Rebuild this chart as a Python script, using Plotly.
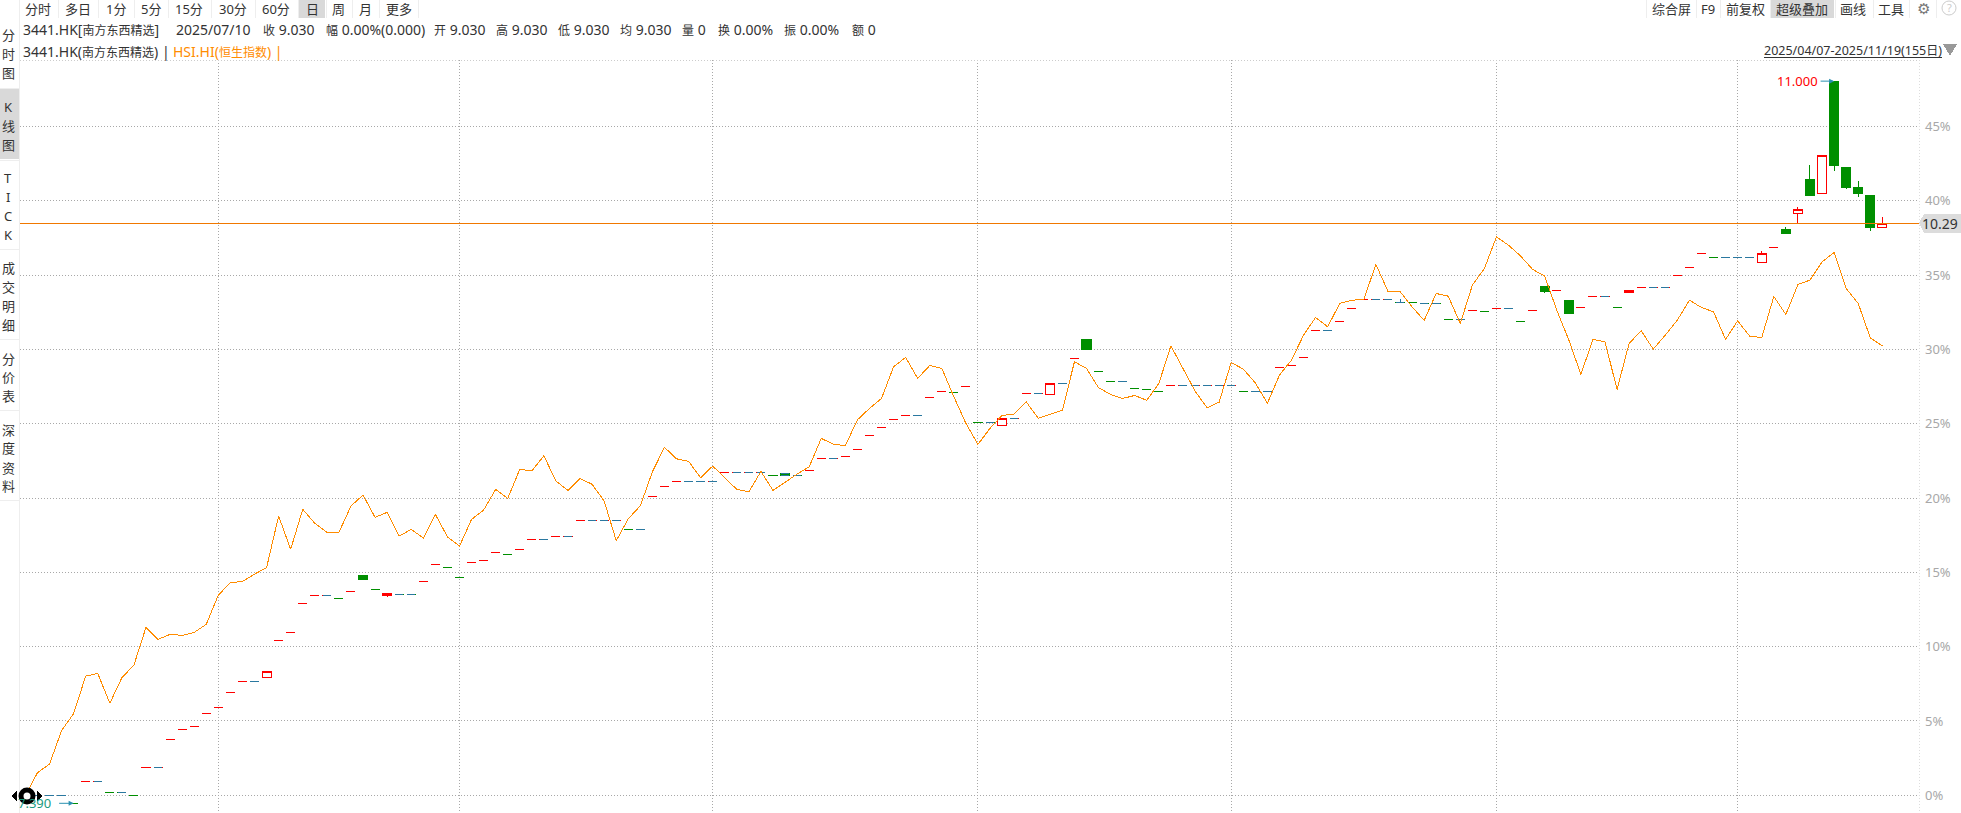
import plotly.graph_objects as go

W, H = 1961, 813
BASE = 7.43  # price at the 0% line

# daily closes, one per bar (155 bars)
closes = [
    7.43, 7.43, 7.43, 7.43, 7.39, 7.50, 7.50, 7.445, 7.445, 7.43,
    7.57, 7.57, 7.71, 7.76, 7.775, 7.84, 7.87, 7.945, 8.00, 8.00,
    8.05, 8.205, 8.245, 8.39, 8.43, 8.43, 8.415, 8.45, 8.51, 8.46,
    8.44, 8.435, 8.435, 8.50, 8.585, 8.57, 8.52, 8.595, 8.605, 8.645,
    8.635, 8.66, 8.71, 8.71, 8.725, 8.725, 8.805, 8.805, 8.805, 8.805,
    8.76, 8.76, 8.925, 8.975, 9.00, 9.00, 9.00, 9.00, 9.045, 9.045,
    9.045, 9.045, 9.03, 9.03, 9.03, 9.055, 9.115, 9.115, 9.125, 9.16,
    9.23, 9.27, 9.31, 9.33, 9.33, 9.42, 9.45, 9.445, 9.475, 9.295,
    9.295, 9.315, 9.315, 9.44, 9.44, 9.49, 9.49, 9.615, 9.66, 9.55,
    9.50, 9.50, 9.465, 9.46, 9.45, 9.48, 9.48, 9.48, 9.48, 9.48,
    9.48, 9.45, 9.45, 9.45, 9.57, 9.58, 9.62, 9.755, 9.755, 9.80,
    9.865, 9.91, 9.91, 9.91, 9.895, 9.895, 9.89, 9.89, 9.81, 9.81,
    9.855, 9.85, 9.865, 9.865, 9.80, 9.855, 9.95, 9.955, 9.84, 9.87,
    9.925, 9.925, 9.87, 9.955, 9.97, 9.97, 9.97, 10.03, 10.07, 10.14,
    10.12, 10.12, 10.12, 10.12, 10.14, 10.17, 10.24, 10.36, 10.43, 10.63,
    10.58, 10.47, 10.44, 10.27, 10.29,
]
# only the bars that have a real body or wick, the rest are flat dashes
open_vals = {20: 8.02, 28: 8.53, 30: 8.43, 63: 9.04, 81: 9.28, 85: 9.435, 88: 9.71,
             126: 9.975, 128: 9.905, 133: 9.945, 144: 10.095, 146: 10.26, 147: 10.34,
             148: 10.51, 149: 10.44, 150: 11.0, 151: 10.57, 152: 10.47, 153: 10.43, 154: 10.27}
high_vals = {114: 9.91, 144: 10.15, 146: 10.27, 147: 10.37, 148: 10.58, 152: 10.50, 154: 10.32}
low_vals = {20: 8.015, 30: 8.42, 81: 9.275, 85: 9.43, 126: 9.94, 128: 9.835, 133: 9.94,
            147: 10.29, 150: 10.55, 151: 10.46, 152: 10.42, 153: 10.25}
# unchanged days, drawn blue
flat_bars = [1, 2, 3, 6, 8, 11, 19, 25, 31, 32, 43, 45, 47, 48, 49, 51, 55, 56, 57, 59, 60, 61,
             63, 64, 67, 74, 80, 82, 84, 86, 91, 96, 97, 98, 99, 100, 102, 103, 108, 112, 113,
             114, 116, 117, 119, 123, 131, 135, 136, 141, 142, 143]

# HSI overlay, % change from the first day
hsi_pct = [
    0.0, 1.52, 2.1, 4.35, 5.5, 8.02, 8.2, 6.19, 7.91, 8.76,
    11.3, 10.49, 10.83, 10.76, 10.96, 11.5, 13.47, 14.3, 14.39, 14.88,
    15.31, 18.79, 16.55, 19.24, 18.3, 17.69, 17.69, 19.46, 20.2, 18.7,
    19.04, 17.44, 17.89, 17.31, 18.9, 17.39, 16.77, 18.56, 19.19, 20.58,
    19.98, 21.93, 21.83, 22.84, 21.14, 20.51, 21.32, 20.92, 19.8, 17.13,
    18.61, 19.48, 21.77, 23.41, 22.64, 22.47, 21.36, 22.15, 21.36, 20.58,
    20.42, 21.79, 20.51, 21.09, 21.61, 22.1, 24.01, 23.63, 23.52, 25.26,
    26.03, 26.7, 28.83, 29.46, 28.05, 28.92, 28.72, 26.81, 25.02, 23.61,
    24.69, 25.56, 25.65, 26.47, 25.36, 25.63, 25.9, 29.17, 28.72, 27.42,
    26.97, 26.7, 26.9, 26.57, 27.71, 30.24, 28.72, 27.2, 26.07, 26.45,
    29.12, 28.67, 27.75, 26.37, 28.27, 29.28, 30.96, 32.15, 31.52, 33.09,
    33.31, 33.36, 35.72, 33.9, 33.9, 32.86, 31.95, 33.76, 33.58, 31.75,
    34.32, 35.45, 37.57, 37.01, 36.28, 35.38, 34.93, 32.64, 30.63, 28.32,
    30.67, 30.51, 27.31, 30.4, 31.25, 30.02, 30.96, 31.97, 33.31, 32.82,
    32.53, 30.67, 31.92, 30.89, 30.8, 33.56, 32.35, 34.37, 34.66, 35.89,
    36.52, 34.1, 33.09, 30.78, 30.24,
]

grid_bars = [16, 36, 57, 79, 100, 122, 142]
pct_ticks = [0, 5, 10, 15, 20, 25, 30, 35, 40, 45]
pct_labels = ["0%", "5%", "10%", "15%", "20%", "25%", "30%", "35%", "40%", "45%"]

top_menu = [("分时", 38), ("多日", 78), ("1分", 116), ("5分", 151), ("15分", 189), ("30分", 233),
            ("60分", 276), ("日", 312), ("周", 338), ("月", 365), ("更多", 399)]
right_menu = [("综合屏", 1671), ("F9", 1708), ("前复权", 1745), ("超级叠加", 1802), ("画线", 1853), ("工具", 1891)]
CJK = "<span style='font-size:12px'>%s</span>"
info_row = [("3441.HK[" + CJK % "南方东西精选" + "]", 21), ("2025/07/10", 174), (CJK % "收" + " 9.030", 261),
            (CJK % "幅" + " 0.00%(0.000)", 324), (CJK % "开" + " 9.030", 432), (CJK % "高" + " 9.030", 494),
            (CJK % "低" + " 9.030", 556), (CJK % "均" + " 9.030", 618), (CJK % "量" + " 0", 680),
            (CJK % "换" + " 0.00%", 716), (CJK % "振" + " 0.00%", 782), (CJK % "额" + " 0", 850)]
side_chars = [("分", 35), ("时", 54), ("图", 73), ("K", 107), ("线", 126), ("图", 145), ("T", 178), ("I", 197),
              ("C", 216), ("K", 235), ("成", 268), ("交", 287), ("明", 306), ("细", 325), ("分", 359), ("价", 377),
              ("表", 396), ("深", 430), ("度", 448), ("资", 468), ("料", 486)]
side_seps = [88, 160, 249, 339, 410, 500]
menu_seps = [58, 98, 134, 168, 211, 255, 298, 326, 352, 379, 418]
right_seps = [1646, 1696, 1720, 1770, 1835, 1873, 1909, 1936]

FONT = "Noto Sans, Noto Sans CJK SC, sans-serif"
TEXT = "#333333"
RED = "#ff0000"
GREEN = "#008f00"
BLUE = "#2a78a0"
ORANGE = "#ff8c00"


def pct(p):
    return (p / BASE - 1) * 100


def px(x):
    return x / W


def py(y):
    return 1 - y / H


bars = list(range(len(closes)))
opens = [open_vals.get(i, c) for i, c in enumerate(closes)]
highs = [high_vals.get(i, max(o, c)) for i, (o, c) in enumerate(zip(opens, closes))]
lows = [low_vals.get(i, min(o, c)) for i, (o, c) in enumerate(zip(opens, closes))]

fig = go.Figure()

fig.add_trace(go.Candlestick(
    x=bars,
    open=[pct(v) for v in opens],
    high=[pct(v) for v in highs],
    low=[pct(v) for v in lows],
    close=[pct(v) for v in closes],
    increasing=dict(line=dict(color=RED, width=1), fillcolor="#ffffff"),
    decreasing=dict(line=dict(color=GREEN, width=1), fillcolor=GREEN),
    whiskerwidth=0,
    hoverinfo="skip",
))

# blue dashes for the unchanged days go over the candles
flat_x = [i for i in flat_bars for _ in (0, 1)]
flat_y = [pct(v) for i in flat_bars for v in (opens[i], closes[i])]
fig.add_trace(go.Scatter(
    x=flat_x, y=flat_y, mode="markers",
    marker=dict(symbol="line-ew", size=6, line=dict(color=BLUE, width=1)),
    hoverinfo="skip",
))
fig.add_trace(go.Scatter(
    x=[114, 114], y=[pct(highs[114]), pct(closes[114])], mode="lines",
    line=dict(color=BLUE, width=1), hoverinfo="skip",
))

fig.add_trace(go.Scatter(
    x=bars, y=hsi_pct, mode="lines",
    line=dict(color=ORANGE, width=1), hoverinfo="skip",
))

fig.update_layout(
    width=W, height=H,
    margin=dict(l=0, r=0, t=0, b=0),
    paper_bgcolor="#ffffff",
    plot_bgcolor="#ffffff",
    showlegend=False,
    boxgap=0.25,
    boxgroupgap=0,
    font=dict(family=FONT, color=TEXT, size=14),
    xaxis=dict(
        domain=[px(20), px(1919)],
        range=[(20 - 25.4) / 12.058, (1919 - 25.4) / 12.058],
        tickvals=grid_bars, showticklabels=False, ticks="",
        showgrid=True, gridcolor="#a8a8a8", griddash="1px,2px", gridwidth=1,
        zeroline=False, showline=False, rangeslider=dict(visible=False),
    ),
    yaxis=dict(
        domain=[py(811), py(60)],
        range=[-1.056, 49.47],
        side="right",
        tickvals=pct_ticks, ticktext=pct_labels,
        tickfont=dict(family=FONT, size=13, color="#a8a8a8"),
        ticks="", ticklabelstandoff=5,
        showgrid=True, gridcolor="#a8a8a8", griddash="1px,2px", gridwidth=1,
        zeroline=False, showline=False,
    ),
)

shapes = []
annots = []


def rect(x0, y0, x1, y1, color):
    shapes.append(dict(type="rect", xref="paper", yref="paper", x0=px(x0), x1=px(x1), y0=py(y0), y1=py(y1),
                       fillcolor=color, line=dict(width=0), layer="below"))


def seg(x0, y0, x1, y1, color, dash="solid", width=1):
    shapes.append(dict(type="line", xref="paper", yref="paper", x0=px(x0), x1=px(x1), y0=py(y0), y1=py(y1),
                       line=dict(color=color, width=width, dash=dash)))


def poly(points, color):
    path = "M " + " L ".join(f"{px(a)},{py(b)}" for a, b in points) + " Z"
    shapes.append(dict(type="path", xref="paper", yref="paper", path=path, fillcolor=color, line=dict(width=0)))


def label(text, x, y, anchor="center", color=TEXT, size=14):
    annots.append(dict(text=text, xref="paper", yref="paper", x=px(x), y=py(y), xanchor=anchor, yanchor="middle",
                       showarrow=False, font=dict(family=FONT, size=size, color=color)))


# toolbar and side panel
rect(299, 0, 325, 18, "#d9d9d9")
rect(1771, 0, 1834, 18, "#d9d9d9")
rect(0, 89, 19, 159, "#d9d9d9")
for x in menu_seps + right_seps:
    seg(x, 0, x, 18, "#eeeeee")
seg(19, 0, 19, H, "#eeeeee")
for y in side_seps:
    seg(0, y, 19, y, "#eeeeee")
for t, x in top_menu + right_menu:
    label(t, x, 9, size=13)
for t, x in info_row:
    label(t, x, 30, anchor="left")
for t, y in side_chars:
    label(t, 8, y, size=13)
label("3441.HK(" + CJK % "南方东西精选" + ") |", 21, 51, anchor="left")
label("HSI.HI(" + CJK % "恒生指数" + ") |", 171, 51, anchor="left", color=ORANGE)
label("⚙", 1923, 8, color="#777777", size=15)
shapes.append(dict(type="circle", xref="paper", yref="paper", x0=px(1942), x1=px(1956), y0=py(15), y1=py(1),
                   line=dict(color="#cccccc", width=1)))
label("?", 1949, 8, color="#cccccc", size=11)

# date range
label("2025/04/07-2025/11/19(155" + CJK % "日" + ")", 1762, 50, anchor="left", size=12.5)
seg(1764, 57, 1942, 57, TEXT)
poly([(1943, 44), (1957, 44), (1950, 56)], "#999999")

# frame
seg(20, 60, 1919, 60, "#cccccc", dash="1px,2px")
seg(1919, 60, 1919, 811, "#dddddd", dash="1px,2px")

# last price line and its tag
shapes.append(dict(type="line", xref="paper", yref="y", x0=px(20), x1=px(1919),
                   y0=pct(closes[-1]), y1=pct(closes[-1]), line=dict(color="#f07800", width=1)))
poly([(1919, 223), (1924, 214), (1961, 214), (1961, 233), (1924, 233)], "#dcdcdc")
annots.append(dict(text=f"{closes[-1]:.2f}", xref="paper", yref="y", x=px(1960), y=pct(closes[-1]),
                   xanchor="right", yanchor="middle", showarrow=False, font=dict(family=FONT, size=14, color=TEXT)))

# high and low callouts
annots.append(dict(text="", x=150, y=pct(max(highs)), xref="x", yref="y", ax=-15, ay=0, axref="pixel", ayref="pixel",
                   showarrow=True, arrowhead=2, arrowsize=1, arrowwidth=1, arrowcolor="#2a90b0"))
annots.append(dict(text=f"{max(highs):.3f}", x=150, y=pct(max(highs)), xref="x", yref="y", xanchor="right",
                   yanchor="middle", xshift=-14, showarrow=False, font=dict(family=FONT, size=13, color=RED)))
annots.append(dict(text="", x=4, y=pct(min(lows)), xref="x", yref="y", ax=-16, ay=0, axref="pixel", ayref="pixel",
                   showarrow=True, arrowhead=2, arrowsize=1, arrowwidth=1, arrowcolor="#2a90b0"))
annots.append(dict(text=f"{min(lows):.3f}", x=4, y=pct(min(lows)), xref="x", yref="y", xanchor="right",
                   yanchor="middle", xshift=-21, showarrow=False, font=dict(family=FONT, size=13, color="#1a9a80")))

# drag handle on the 0% line
shapes.append(dict(type="circle", xref="paper", yref="paper", x0=px(21), x1=px(33), y0=py(802), y1=py(790),
                   line=dict(color="#000000", width=5), fillcolor="#ffffff"))
poly([(11, 796), (17, 791), (17, 801)], "#000000")
poly([(43, 796), (37, 791), (37, 801)], "#000000")

fig.update_layout(shapes=shapes, annotations=annots)

# hard pixel edges on the marks, round shapes keep their antialiasing
crisp = (
    "document.body.style.margin='0';"
    "var s=document.createElement('style');"
    "s.textContent=\".js-line,.boxes path,.points path,.shapelayer path:not([d*='A']){shape-rendering:crispEdges}\";"
    "document.head.appendChild(s);"
)
fig.write_html("out.html", config=dict(displayModeBar=False), post_script=crisp)
